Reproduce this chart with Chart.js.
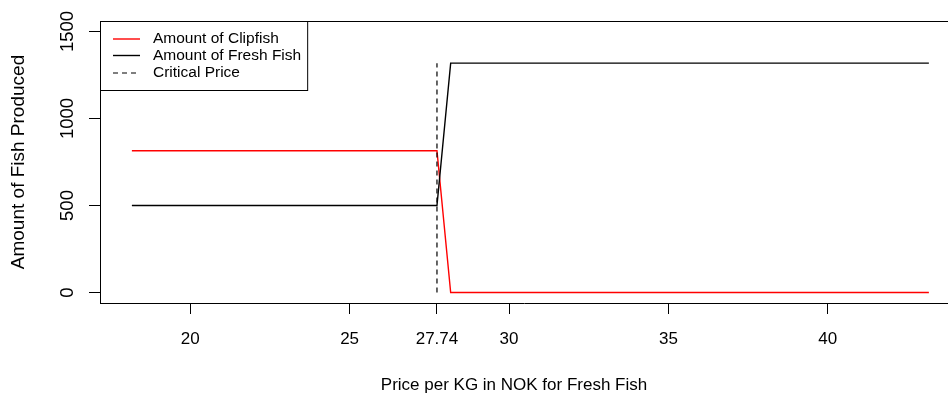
<!DOCTYPE html>
<html>
<head>
<meta charset="utf-8">
<title>Clipfish vs Fresh Fish</title>
<script src="https://cdn.jsdelivr.net/npm/chart.js@4/dist/chart.umd.min.js"></script>
<style>
  html, body { margin: 0; padding: 0; background: #fff; }
  #c { display: block; }
</style>
</head>
<body>
<canvas id="c" width="948" height="396"></canvas>
<script>
// Price per kg of fresh fish (NOK) at the corners of the production paths
const prices = [18.17, 27.74, 28.17, 43.17];
const clipfishAmount = [815, 815, 0, 0];
const freshFishAmount = [500, 500, 1318, 1318];

// Critical price where production switches from clipfish to fresh fish
const criticalPrice = 27.74;
const criticalSpan = [0, 1318];

// Axis ticks
const xTicks = [20, 25, 27.74, 30, 35, 40];
const yTicks = [0, 500, 1000, 1500];

const seriesLabels = ['Amount of Clipfish', 'Amount of Fresh Fish', 'Critical Price'];

const FONT = 'Liberation Sans, Arial, Helvetica, sans-serif';

const toPoints = (xs, ys) => xs.map((x, i) => ({ x, y: ys[i] }));

// Plot box outline (top edge) and the boxed legend in the upper-left corner
const framePlugin = {
  id: 'frameAndLegend',
  afterDraw(chart) {
    const { ctx, chartArea: a } = chart;
    ctx.save();
    ctx.strokeStyle = '#000';
    ctx.lineWidth = 1;
    ctx.setLineDash([]);
    ctx.beginPath();
    ctx.moveTo(a.left, Math.round(a.top) + 0.5);
    ctx.lineTo(a.right, Math.round(a.top) + 0.5);
    ctx.stroke();

    // legend
    ctx.font = '15.5px ' + FONT;
    const items = chart.data.datasets;
    const x0 = a.left, y0 = Math.round(a.top);
    const textX = x0 + 53;
    let maxW = 0;
    items.forEach(d => { maxW = Math.max(maxW, ctx.measureText(d.label).width); });
    const boxW = textX + maxW + 6 - x0;
    const rowY = [y0 + 18, y0 + 34.5, y0 + 52];
    const boxH = 69;
    ctx.fillStyle = '#fff';
    ctx.fillRect(x0, y0, boxW, boxH);
    ctx.strokeRect(x0 + 0.5, y0 + 0.5, boxW, boxH);
    items.forEach((d, i) => {
      ctx.strokeStyle = d.borderColor;
      ctx.lineWidth = d.borderWidth;
      ctx.setLineDash(d.borderDash || []);
      ctx.beginPath();
      ctx.moveTo(x0 + 13, rowY[i]);
      ctx.lineTo(x0 + 40, rowY[i]);
      ctx.stroke();
      ctx.setLineDash([]);
      ctx.fillStyle = '#000';
      ctx.textBaseline = 'middle';
      ctx.textAlign = 'left';
      ctx.fillText(d.label, textX, rowY[i]);
    });

    // x-axis title
    ctx.font = '17px ' + FONT;
    ctx.fillStyle = '#000';
    ctx.textAlign = 'center';
    ctx.textBaseline = 'middle';
    ctx.fillText('Price per KG in NOK for Fresh Fish', 514, 385);
    ctx.restore();
  }
};

new Chart(document.getElementById('c'), {
  type: 'line',
  data: {
    datasets: [
      {
        label: seriesLabels[0],
        data: toPoints(prices, clipfishAmount),
        borderColor: '#ff0000',
        borderWidth: 1.4,
        pointRadius: 0,
        tension: 0,
        order: 3
      },
      {
        label: seriesLabels[1],
        data: toPoints(prices, freshFishAmount),
        borderColor: '#000000',
        borderWidth: 1.4,
        pointRadius: 0,
        tension: 0,
        order: 2
      },
      {
        label: seriesLabels[2],
        data: toPoints([criticalPrice, criticalPrice], criticalSpan),
        borderColor: '#000000',
        borderWidth: 1.2,
        borderDash: [5, 4],
        pointRadius: 0,
        tension: 0,
        order: 1
      }
    ]
  },
  options: {
    responsive: false,
    animation: false,
    devicePixelRatio: 1,
    layout: { padding: { top: 21, left: 0, right: 0, bottom: 0 } },
    plugins: {
      legend: { display: false },
      tooltip: { enabled: false }
    },
    scales: {
      x: {
        type: 'linear',
        min: 17.17,
        max: 43.77,
        afterBuildTicks: s => { s.ticks = xTicks.map(v => ({ value: v })); },
        afterFit: s => { s.height = 93; },
        border: { display: true, color: '#000', width: 1 },
        grid: { drawOnChartArea: false, drawTicks: true, tickLength: 11, tickColor: '#000', tickWidth: 1 },
        ticks: {
          color: '#000',
          font: { family: FONT, size: 17 },
          padding: 15,
          maxRotation: 0,
          minRotation: 0,
          autoSkip: false,
          callback: v => String(v)
        }
      },
      y: {
        type: 'linear',
        min: -60,
        max: 1560,
        afterBuildTicks: s => { s.ticks = yTicks.map(v => ({ value: v })); },
        afterFit: s => { s.width = 100; },
        border: { display: true, color: '#000', width: 1 },
        grid: { drawOnChartArea: false, drawTicks: true, tickLength: 11, tickColor: '#000', tickWidth: 1 },
        ticks: {
          color: '#000',
          font: { family: FONT, size: 18.5 },
          padding: 1,
          minRotation: 90,
          maxRotation: 90,
          crossAlign: 'center',
          autoSkip: false,
          callback: v => String(v)
        },
        title: {
          display: true,
          text: 'Amount of Fish Produced',
          color: '#000',
          font: { family: FONT, size: 19 },
          padding: { top: 7, bottom: 0 }
        }
      }
    }
  },
  plugins: [framePlugin]
});
</script>
</body>
</html>
